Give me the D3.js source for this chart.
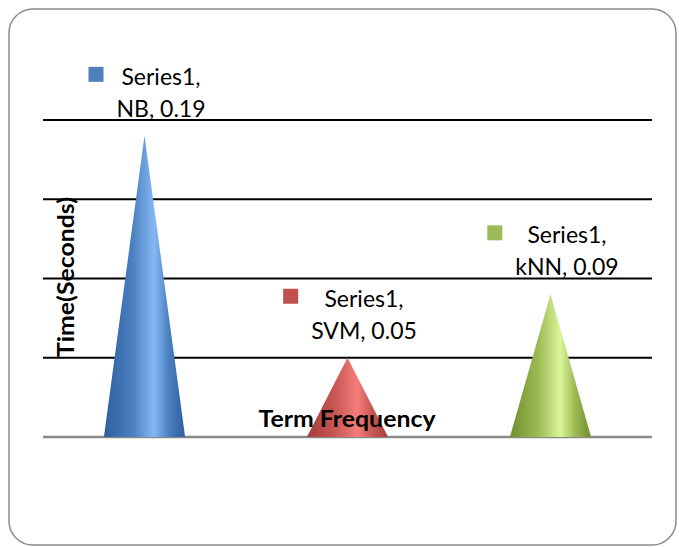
<!DOCTYPE html>
<html>
<head>
<meta charset="utf-8">
<script src="https://cdn.jsdelivr.net/npm/d3@7"></script>
<style>
  html, body { margin: 0; padding: 0; background: #fff; }
  svg { display: block; }
  text { font-family: Lato, "Open Sans", sans-serif; }
</style>
</head>
<body>
<script>
// Training time per classifier (term-frequency features)
const categories = ["NB", "SVM", "kNN"];
const seriesName = "Series1";
const values = [0.19, 0.05, 0.09];
const gridTicks = [0, 0.05, 0.10, 0.15, 0.20];
const palette = [
  { edge: "#2f5f9e", mid: "#4a7fc0", light: "#85b8f2" },
  { edge: "#a43e3c", mid: "#c85755", light: "#f47d7a" },
  { edge: "#6f8e2e", mid: "#9dbb54", light: "#dcf59a" }
];
const legendColors = ["#4f81bd", "#c0504d", "#9bbb59"];

const W = 679, H = 547;
const svg = d3.select("body").append("svg").attr("width", W).attr("height", H);

// chart frame
svg.append("rect")
  .attr("x", 9).attr("y", 9).attr("width", 667).attr("height", 536)
  .attr("rx", 24).attr("ry", 24)
  .attr("fill", "#fff").attr("stroke", "#8c8c8c").attr("stroke-width", 1.5);

const x = d3.scaleBand().domain(categories).range([43, 652]).padding(0);
const y = d3.scaleLinear().domain([0, 0.2]).range([437, 120]);

// gradients for the cone shading
const defs = svg.append("defs");
palette.forEach((p, i) => {
  const g = defs.append("linearGradient").attr("id", "cone" + i)
    .attr("x1", "0").attr("x2", "1").attr("y1", "0").attr("y2", "0");
  g.append("stop").attr("offset", "0%").attr("stop-color", p.edge);
  g.append("stop").attr("offset", "35%").attr("stop-color", p.mid);
  g.append("stop").attr("offset", "62%").attr("stop-color", p.light);
  g.append("stop").attr("offset", "80%").attr("stop-color", p.mid);
  g.append("stop").attr("offset", "100%").attr("stop-color", p.edge);
});

// gridlines
svg.append("g").selectAll("line").data(gridTicks).join("line")
  .attr("x1", 43).attr("x2", 652)
  .attr("y1", d => y(d)).attr("y2", d => y(d))
  .attr("stroke", d => d === 0 ? "#8a8a8a" : "#000")
  .attr("stroke-width", d => d === 0 ? 2.5 : 2);

// cones
const coneHalf = x.bandwidth() * 0.2;
svg.append("g").selectAll("path").data(values).join("path")
  .attr("d", (d, i) => {
    const cx = x(categories[i]) + x.bandwidth() / 2;
    return `M${cx - coneHalf},${y(0)} L${cx},${y(d)} L${cx + coneHalf},${y(0)} Z`;
  })
  .attr("fill", (d, i) => `url(#cone${i})`);

// axis titles
svg.append("text")
  .attr("transform", "translate(74,277) rotate(-90)")
  .attr("text-anchor", "middle")
  .attr("font-size", 23).attr("font-weight", "bold").attr("fill", "#000")
  .attr("textLength", 160).attr("lengthAdjust", "spacingAndGlyphs")
  .text("Time(Seconds)");

svg.append("text")
  .attr("x", 347).attr("y", 427)
  .attr("text-anchor", "middle")
  .attr("font-size", 23).attr("font-weight", "bold").attr("fill", "#000")
  .attr("textLength", 177).attr("lengthAdjust", "spacingAndGlyphs")
  .text("Term Frequency");

// data labels: key square to the left of a two-line centred text block
const fs = 23, keySize = 15, gap = 13;
values.forEach((d, i) => {
  const cx = x(categories[i]) + x.bandwidth() / 2;
  const top = y(d);
  const g = svg.append("g");
  const t1 = g.append("text").attr("y", top - 51).attr("text-anchor", "middle")
    .attr("font-size", fs).attr("fill", "#000").text(seriesName + ",");
  const t2 = g.append("text").attr("y", top - 19).attr("text-anchor", "middle")
    .attr("font-size", fs).attr("fill", "#000")
    .text(`${categories[i]}, ${d3.format(".2f")(d)}`);
  const bw = Math.max(t1.node().getComputedTextLength(), t2.node().getComputedTextLength());
  const groupW = keySize + gap + bw;
  const left = cx + 2.5 - groupW / 2;
  const textCx = left + keySize + gap + bw / 2;
  t1.attr("x", textCx);
  t2.attr("x", textCx);
  g.insert("rect", "text")
    .attr("x", left).attr("y", top - 51 - 18)
    .attr("width", keySize).attr("height", keySize)
    .attr("fill", legendColors[i]);
});
</script>
</body>
</html>
